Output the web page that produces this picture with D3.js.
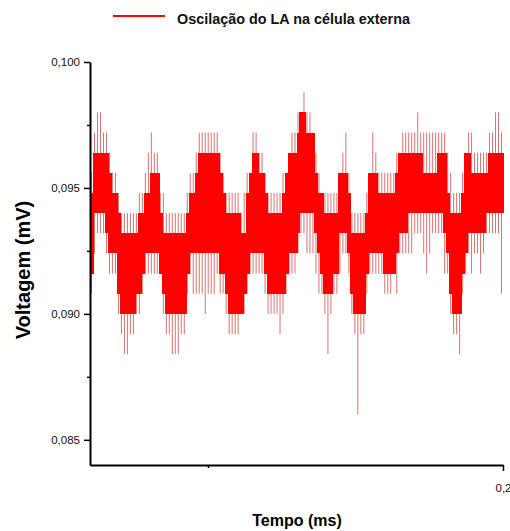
<!DOCTYPE html>
<html>
<head>
<meta charset="utf-8">
<script src="https://cdn.jsdelivr.net/npm/d3@7"></script>
<style>
  body { margin: 0; background: #fff; }
  text { font-family: "Liberation Sans", Arial, sans-serif; }
</style>
</head>
<body>
<div id="chart"></div>
<script>
// quantised voltage levels (mV), indexed 0..g in the strings below
const levels = [0.0860, 0.0868, 0.0876, 0.0884, 0.0892, 0.0900, 0.0908, 0.0916, 0.0924,
                0.0932, 0.0940, 0.0948, 0.0956, 0.0964, 0.0972, 0.0980, 0.0988];

const tempoStart = 0.13;
const tempoEnd = 0.2;

// one char per time column, 10 columns per chunk
// top and bottom of the dense band
const coreHigh = ["bdddddcbba", "999999aabb", "ccca999999", "99abbcdddd", "dddcbaaaaa",
                  "99bcddccba", "aaaabcddde", "ffeeecbbaa", "aaacccb999", "99acccbbbb",
                  "bbcddddddd", "dcccccdddb", "aaaabddccc", "cccddddd"].join("");
const coreLow  = ["7aaaa98886", "5555566788", "8887655555", "5578888888", "8887765555",
                  "5678888876", "6666678889", "aaaaa98766", "6779998655", "5578888877",
                  "778999aaaa", "aaaaaaaa98", "6555789999", "99aaaaaa"].join("");
// extremes reached by the thin spikes
const spikeHigh = ["ceffeedccb", "aaaaaabbcd", "eddbbaaaaa", "aabccdeeee", "eeedcbbbbb",
                   "abcceeddcb", "bbbbccdeef", "fgffedcbbb", "bbbcdecaaa", "aabcedcccc",
                   "ccddeeeeef", "eeeeeeeeed", "cbbbcdeedd", "dddeeffe"].join("");
const spikeLow  = ["6899987775", "4334455677", "7777544333", "4467666656", "6676654444",
                   "5567777765", "5554567778", "9988876653", "5667887540", "4467777766",
                   "6768888899", "9878999977", "5443678788", "78999996"].join("");

const yTicks = [0.085, 0.090, 0.095, 0.100];
const yMinorTicks = [0.0875, 0.0925, 0.0975];
const xTicks = [0.2];
const xMinorTicks = [0.15];

const legendLabel = "Oscilação do LA na célula externa";
const xTitle = "Tempo (ms)";
const yTitle = "Voltagem (mV)";

function init() {
    const width = 510;
    const height = 531;

    const x = d3.scaleLinear().domain([tempoStart, tempoEnd]).range([90, 503]);
    const y = d3.scaleLinear().domain([0.084, 0.100]).range([465, 62]);

    const svg = d3.select("#chart")
        .append("svg")
        .attr("width", width)
        .attr("height", height);

    const lvl = s => s.split("").map(ch => levels[parseInt(ch, 17)]);
    const hi = lvl(coreHigh), lo = lvl(coreLow), sh = lvl(spikeHigh), sl = lvl(spikeLow);
    const n = hi.length;
    const dt = (tempoEnd - tempoStart) / n;

    const data = d3.range(n).map(i => ({
        t: tempoStart + i * dt, hi: hi[i], lo: lo[i], sh: sh[i], sl: sl[i]
    }));

    // thin spikes
    svg.append("g")
        .selectAll("line")
        .data(data)
        .join("line")
        .attr("x1", d => x(d.t + dt / 2))
        .attr("x2", d => x(d.t + dt / 2))
        .attr("y1", d => y(d.sl))
        .attr("y2", d => y(d.sh))
        .attr("stroke", "#cc4444")
        .attr("stroke-width", 1)
        .attr("opacity", 0.75);

    // solid band
    svg.append("g")
        .attr("shape-rendering", "crispEdges")
        .selectAll("rect")
        .data(data)
        .join("rect")
        .attr("x", d => x(d.t))
        .attr("width", d => x(d.t + dt) - x(d.t) + 1)
        .attr("y", d => y(Math.max(d.hi, d.lo)))
        .attr("height", d => Math.abs(y(d.lo) - y(d.hi)))
        .attr("fill", "#ff0000");

    const fmt = d => d3.format(".3f")(d).replace(".", ",");

    // y axis
    const yAxis = svg.append("g")
        .attr("transform", "translate(90,0)")
        .call(d3.axisLeft(y).tickValues(yTicks).tickFormat(fmt).tickSize(6).tickSizeOuter(0));
    svg.append("g")
        .attr("transform", "translate(90,0)")
        .call(d3.axisLeft(y).tickValues(yMinorTicks).tickFormat("").tickSize(3).tickSizeOuter(0))
        .select(".domain").remove();

    // x axis
    const xAxis = svg.append("g")
        .attr("transform", "translate(0,465)")
        .call(d3.axisBottom(x).tickValues(xTicks).tickFormat(d => String(d).replace(".", ",")).tickSize(6).tickSizeOuter(0));
    svg.append("g")
        .attr("transform", "translate(0,465)")
        .call(d3.axisBottom(x).tickValues(xMinorTicks).tickFormat("").tickSize(3).tickSizeOuter(0))
        .select(".domain").remove();

    svg.selectAll(".domain").attr("stroke", "#000").attr("stroke-width", 2);
    svg.selectAll(".tick line").attr("stroke", "#000").attr("stroke-width", 1.5);
    svg.selectAll(".tick text").attr("font-size", 11.5).attr("fill", "#111")
        .attr("font-family", "'Liberation Sans', Arial, sans-serif");
    yAxis.selectAll(".tick text").attr("x", -10);
    xAxis.selectAll(".tick text").attr("y", 19);

    // titles
    svg.append("text")
        .attr("x", 297)
        .attr("y", 526)
        .attr("text-anchor", "middle")
        .attr("font-size", 16)
        .attr("font-weight", "bold")
        .text(xTitle);

    svg.append("text")
        .attr("transform", "translate(30,270) rotate(-90)")
        .attr("text-anchor", "middle")
        .attr("font-size", 20)
        .attr("font-weight", "bold")
        .text(yTitle);

    // legend
    svg.append("line")
        .attr("x1", 113).attr("x2", 165)
        .attr("y1", 16).attr("y2", 16)
        .attr("stroke", "#ff0000")
        .attr("stroke-width", 2);
    svg.append("text")
        .attr("x", 177)
        .attr("y", 24)
        .attr("font-size", 15)
        .attr("font-weight", "bold")
        .attr("fill", "#111")
        .attr("textLength", 233)
        .attr("lengthAdjust", "spacingAndGlyphs")
        .text(legendLabel);
}

window.onload = init;
</script>
</body>
</html>
